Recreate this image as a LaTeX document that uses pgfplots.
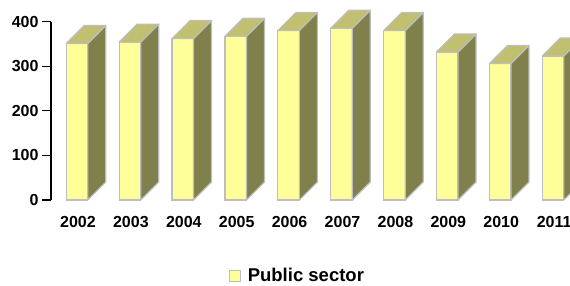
\documentclass[border=0pt]{standalone}
\usepackage{pgfplots}
\pgfplotsset{compat=1.18}
\usepackage{pgfplotstable}
\usepackage{fontspec}
\setmainfont{Liberation Sans}
\definecolor{frontc}{RGB}{255,255,153}
\definecolor{sidec}{RGB}{128,128,76}
\definecolor{topc}{RGB}{192,192,112}
\definecolor{edgec}{RGB}{190,190,190}
\pgfdeclareplotmark{nothing}{}
\pgfplotstableread{
i v
0 351
1 354
2 362
3 367
4 380
5 385
6 380
7 332
8 306
9 323
}\datatable
\begin{document}
\begin{tikzpicture}
\path[use as bounding box] (-77pt,-85pt) rectangle (493pt,200pt);
\begin{axis}[
  at={(0pt,0pt)}, anchor=origin,
  x=52.9pt, y=0.446pt,
  xmin=-0.49, xmax=9.32, ymin=0, ymax=400,
  clip=false,
  axis lines=left,
  axis line style={-},
  x axis line style={draw=none},
  y axis line style={black, line width=1.3pt},
  xtick={0,...,9},
  xticklabels={2002,2003,2004,2005,2006,2007,2008,2009,2010,2011},
  xtick style={draw=none},
  xticklabel style={yshift=-4pt, xshift=1pt},
  ytick={0,100,200,300,400},
  ytick style={black, line width=1.3pt},
  tick align=outside,
  major tick length=9pt,
  /pgf/number format/assume math mode=true,
  tick label style={font=\bfseries\fontsize{16}{16}\selectfont},
  legend style={draw=none, fill=none, font=\bfseries\fontsize{18.5}{18.5}\selectfont,
    at={(axis description cs:0.475,-0.425)}, anchor=center},
]
\addplot[forget plot, scatter, only marks, mark=nothing,
  visualization depends on={rawy \as \val},
  scatter/@pre marker code/.code={%
    \pgfmathsetmacro\h{\val*0.446}%
    \filldraw[fill=sidec, draw=edgec, line width=1.2pt, line join=round]
      (10.75pt,0pt) -- (28.75pt,18pt) -- (28.75pt,18pt-\h pt) -- (10.75pt,-\h pt) -- cycle;
    \filldraw[fill=topc, draw=edgec, line width=1.2pt, line join=round]
      (-10.75pt,0pt) -- (10.75pt,0pt) -- (28.75pt,18pt) -- (7.25pt,18pt) -- cycle;
  },
  scatter/@post marker code/.code={},
] table[x=i, y=v] {\datatable};
\addplot[ybar, bar width=21.5pt, fill=frontc, draw=edgec, line width=1.2pt,
  legend image code/.code={\draw[fill=frontc, draw=edgec, line width=1pt] (0pt,-5.3pt) rectangle (10.7pt,5.3pt); \path (15.5pt,0pt);}]
  table[x=i, y=v] {\datatable};
\addlegendentry{Public sector}
\end{axis}
\end{tikzpicture}
\end{document}
